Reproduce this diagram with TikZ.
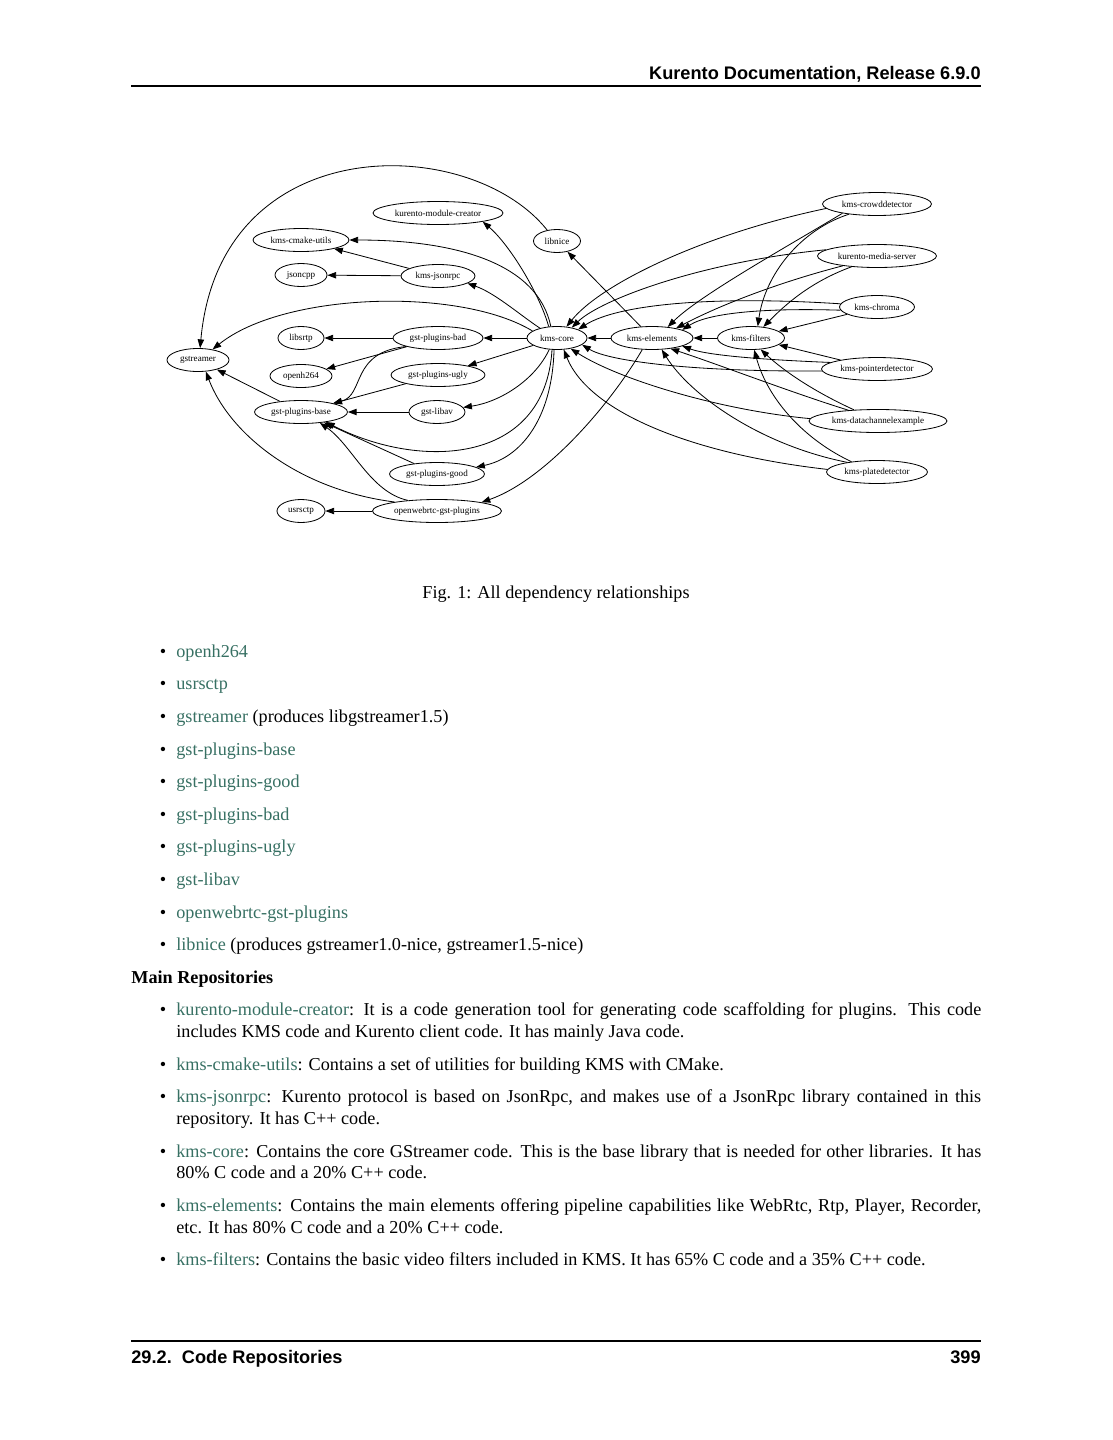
\documentclass[tikz,border=0pt]{standalone}
\usepackage{fontspec}
\setmainfont{Liberation Serif}
\newfontfamily\hdrfont{Liberation Sans}
\usetikzlibrary{shapes.geometric,arrows.meta}
\definecolor{linkc}{rgb}{0.216,0.439,0.388}
\newcommand\lk[1]{\textcolor{linkc}{#1}}
\begin{document}
\begin{tikzpicture}[x=0.54987pt,y=-0.54987pt,
  nd/.style={ellipse,draw,line width=0.45pt,inner sep=0pt,minimum height=23*0.54987pt,minimum width=#1*0.54987pt,font=\fontsize{5}{6}\selectfont},
  dep/.style={line width=0.45pt,-{Triangle[length=4.8pt,width=3.5pt]}},
  body/.style={anchor=base west,inner sep=0pt,font=\fontsize{10}{12}\selectfont},
  bul/.style={anchor=base,inner sep=0pt,font=\fontsize{10}{12}\selectfont},
  hdr/.style={inner sep=0pt,font=\hdrfont\bfseries\fontsize{10}{12}\selectfont},
  rulel/.style={line width=0.6pt}
]
\useasboundingbox (0,0) rectangle (1113,1440);
% header / footer
\node[hdr,anchor=base east] (htitle) at (981,79.5) {Kurento Documentation, Release 6.9.0};
\coordinate (hr1) at (131,86); \coordinate (hr2) at (981,86);
\draw[rulel] (hr1) -- (hr2);
\coordinate (fr1) at (131,1341); \coordinate (fr2) at (981,1341);
\draw[rulel] (fr1) -- (fr2);
\node[hdr,anchor=base west] (fsec) at (131,1363) {29.2.\ \ Code Repositories};
\node[hdr,anchor=base east] (fpage) at (981,1363) {399};

% nodes
\node[nd=130] (kmc) at (438,213) {kurento-module-creator};
\node[nd=96] (cmake) at (301,240) {kms-cmake-utils};
\node[nd=47] (libnice) at (557,241) {libnice};
\node[nd=52] (jsoncpp) at (301,275) {jsoncpp};
\node[nd=74] (jsonrpc) at (438,276) {kms-jsonrpc};
\node[nd=46] (libsrtp) at (301,338) {libsrtp};
\node[nd=90] (gpbad) at (438,338) {gst-plugins-bad};
\node[nd=60] (core) at (557,338) {kms-core};
\node[nd=82] (elem) at (652,338) {kms-elements};
\node[nd=67] (filt) at (751,338) {kms-filters};
\node[nd=62] (gst) at (198,360) {gstreamer};
\node[nd=62] (h264) at (301,376) {openh264};
\node[nd=94] (gpugly) at (438,375) {gst-plugins-ugly};
\node[nd=93] (gpbase) at (301,412) {gst-plugins-base};
\node[nd=56] (libav) at (437,412) {gst-libav};
\node[nd=95] (gpgood) at (437,474) {gst-plugins-good};
\node[nd=48] (usrsctp) at (301,511) {usrsctp};
\node[nd=129] (owrtc) at (437,511) {openwebrtc-gst-plugins};
\node[nd=109] (crowd) at (877,204) {kms-crowddetector};
\node[nd=119] (kmsrv) at (877,256) {kurento-media-server};
\node[nd=75] (chroma) at (877,307) {kms-chroma};
\node[nd=111] (pointer) at (877,369) {kms-pointerdetector};
\node[nd=138] (datach) at (878,421) {kms-datachannelexample};
\node[nd=101] (plate) at (877,472) {kms-platedetector};

% straight edges
\draw[dep] (core) -- (gpbad);
\draw[dep] (gpbad) -- (libsrtp);
\draw[dep] (jsonrpc) -- (jsoncpp);
\draw[dep] (libav) -- (gpbase);
\draw[dep] (owrtc) -- (usrsctp);
\draw[dep] (elem) -- (core);
\draw[dep] (filt) -- (elem);
\draw[dep] (jsonrpc) -- (cmake);
\draw[dep] (gpbad) -- (h264);
\draw[dep] (core) -- (gpugly);
\draw[dep] (gpugly) -- (gpbase);
\draw[dep] (gpbase) -- (gst);
\draw[dep] (gpgood) -- (gpbase);
\draw[dep] (elem) -- (libnice);
\draw[dep] (chroma) -- (filt);
\draw[dep] (pointer) -- (filt);

% curved edges, left part
\draw[dep] (core.150) .. controls (520,315) and (495,293) .. (jsonrpc.-14);
\draw[dep] (core.126) .. controls (540,295) and (510,245) .. (kmc.-11);
\draw[dep] (core.118) .. controls (538,265) and (460,240) .. (cmake.0);
\draw[dep] (core.164) .. controls (460,287) and (284,292) .. (gst.36);
\draw[dep] (libnice.132) .. controls (470,133) and (220,128) .. (gst.80);
\draw[dep] (gpbad.195) .. controls (350,352) and (365,395) .. (gpbase.15);
\draw[dep] (owrtc.168) .. controls (300,490) and (230,435) .. (gst.-56);
\draw[dep] (owrtc.160) .. controls (370,492) and (352,445) .. (gpbase.-30);
\draw[dep] (core.236) .. controls (535,380) and (500,402) .. (libav.10);
\draw[dep] (core.247) .. controls (545,465) and (420,470) .. (gpbase.-22);
\draw[dep] (core.256) .. controls (552,420) and (520,458) .. (gpgood.10);
\draw[dep] (elem.230) .. controls (610,405) and (545,480) .. (owrtc.11);

% curved edges, right part
\draw[dep] (crowd.185) .. controls (700,235) and (600,285) .. (core.50);
\draw[dep] (crowd.195) .. controls (790,245) and (700,295) .. (elem.35);
\draw[dep] (crowd.200) .. controls (800,230) and (765,275) .. (filt.60);
\draw[dep] (kmsrv.173) .. controls (700,262) and (600,300) .. (core.35);
\draw[dep] (kmsrv.196) .. controls (780,282) and (720,305) .. (elem.22);
\draw[dep] (kmsrv.203) .. controls (810,282) and (785,305) .. (filt.42);
\draw[dep] (chroma.175) .. controls (720,296) and (620,303) .. (core.22);
\draw[dep] (chroma.185) .. controls (770,308) and (710,312) .. (elem.15);
\draw[dep] (pointer.182) .. controls (700,372) and (610,362) .. (core.-15);
\draw[dep] (pointer.172) .. controls (770,360) and (710,356) .. (elem.-15);
\draw[dep] (datach.178) .. controls (720,410) and (620,380) .. (core.-38);
\draw[dep] (datach.160) .. controls (790,392) and (720,365) .. (elem.-30);
\draw[dep] (datach.155) .. controls (815,392) and (785,372) .. (filt.-50);
\draw[dep] (plate.177) .. controls (700,455) and (590,415) .. (core.-60);
\draw[dep] (plate.162) .. controls (760,445) and (690,395) .. (elem.-50);
\draw[dep] (plate.158) .. controls (805,440) and (768,400) .. (filt.-75);

% caption
\node[bul] (cap) at (556,598) {Fig. 1: All dependency relationships};

% dependency list
\foreach \y/\t/\r [count=\i] in {657/openh264/,689/usrsctp/,722/gstreamer/ (produces libgstreamer1.5),755/gst-plugins-base/,787/gst-plugins-good/,820/gst-plugins-bad/,852/gst-plugins-ugly/,885/gst-libav/,918/openwebrtc-gst-plugins/,950/libnice/ (produces gstreamer1.0-nice{,} gstreamer1.5-nice)}{
  \node[bul] (b\i) at (163,\y) {•};
  \node[body] (t\i) at (176,\y) {\lk{\t}\r};
}

\node[body,font=\fontsize{10}{12}\selectfont\bfseries] (mainrepo) at (131,983) {Main Repositories};

\node[bul] (m1) at (163,1015) {•};
\node[body] (m1a) at (176,1015) {\makebox[442.6pt][s]{\lk{kurento-module-creator}: It is a code generation tool for generating code scaffolding for plugins. This code}};
\node[body] (m1b) at (176,1037) {includes KMS code and Kurento client code. It has mainly Java code.};

\node[bul] (m2) at (163,1070) {•};
\node[body] (m2a) at (176,1070) {\lk{kms-cmake-utils}: Contains a set of utilities for building KMS with CMake.};

\node[bul] (m3) at (163,1102) {•};
\node[body] (m3a) at (176,1102) {\makebox[442.6pt][s]{\lk{kms-jsonrpc}: Kurento protocol is based on JsonRpc, and makes use of a JsonRpc library contained in this}};
\node[body] (m3b) at (176,1124) {repository. It has C++ code.};

\node[bul] (m4) at (163,1157) {•};
\node[body] (m4a) at (176,1157) {\makebox[442.6pt][s]{\lk{kms-core}: Contains the core GStreamer code. This is the base library that is needed for other libraries. It has}};
\node[body] (m4b) at (176,1178) {80\% C code and a 20\% C++ code.};

\node[bul] (m5) at (163,1211) {•};
\node[body] (m5a) at (176,1211) {\makebox[442.6pt][s]{\lk{kms-elements}: Contains the main elements offering pipeline capabilities like WebRtc, Rtp, Player, Recorder,}};
\node[body] (m5b) at (176,1233) {etc. It has 80\% C code and a 20\% C++ code.};

\node[bul] (m6) at (163,1265) {•};
\node[body] (m6a) at (176,1265) {\lk{kms-filters}: Contains the basic video filters included in KMS. It has 65\% C code and a 35\% C++ code.};
\end{tikzpicture}
\end{document}
